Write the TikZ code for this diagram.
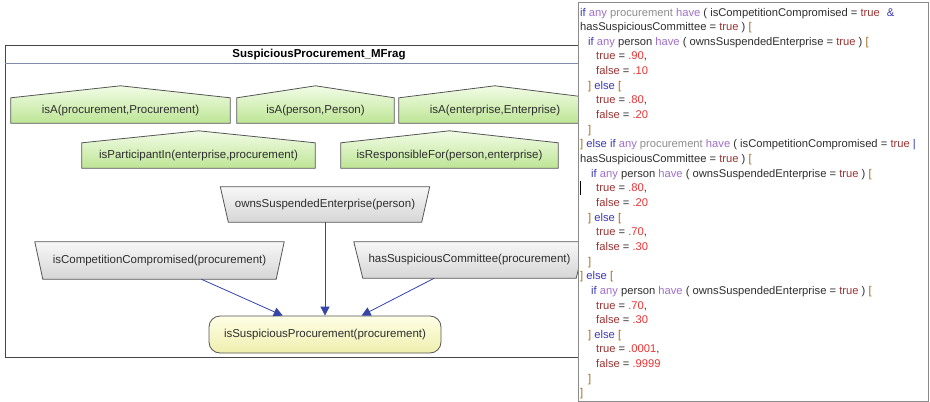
\documentclass[tikz,border=0pt]{standalone}
\usepackage{fontspec}
\setmainfont{Liberation Sans}
\usetikzlibrary{arrows.meta}
\pgfdeclarelayer{bgA}\pgfdeclarelayer{bgB}\pgfdeclarelayer{topL}
\pgfsetlayers{bgA,bgB,main,topL}
\definecolor{framec}{HTML}{474747}
\definecolor{titlelinec}{HTML}{7D8DAA}
\definecolor{nodeborder}{HTML}{555555}
\definecolor{greentop}{HTML}{F2FCE6}
\definecolor{greenbot}{HTML}{BDE595}
\definecolor{graytop}{HTML}{F7F7F7}
\definecolor{graybot}{HTML}{D6D6D6}
\definecolor{yeltop}{HTML}{FEFEE6}
\definecolor{yelbot}{HTML}{EFEFAE}
\definecolor{arrowc}{HTML}{3545A8}
\definecolor{panelc}{HTML}{8A8A8A}
\definecolor{txtc}{HTML}{2E2E2E}
\definecolor{kwc}{HTML}{3A3AB4}
\definecolor{ayc}{HTML}{A070C8}
\definecolor{enc}{HTML}{8E8E8E}
\definecolor{trc}{HTML}{9A3535}
\definecolor{brc}{HTML}{A06A20}
\definecolor{nmc}{HTML}{EE3333}
\newcommand\ckw[1]{\textcolor{kwc}{#1}}
\newcommand\cay[1]{\textcolor{ayc}{#1}}
\newcommand\cen[1]{\textcolor{enc}{#1}}
\newcommand\ctr[1]{\textcolor{trc}{#1}}
\newcommand\cbr[1]{\textcolor{brc}{#1}}
\newcommand\cnm[1]{\textcolor{nmc}{#1}}
\tikzset{
  lbl/.style={inner sep=0pt, font=\fontsize{11.5}{14}\selectfont, text=txtc},
  ctxbox/.style={lbl, minimum height=25pt},
  resbox/.style={lbl},
  greenshape/.style={draw=nodeborder, line width=0.8pt, top color=greentop, bottom color=greenbot},
  grayshape/.style={draw=nodeborder, line width=0.8pt, top color=graytop, bottom color=graybot},
  edge/.style={draw=arrowc, line width=0.8pt, -{Triangle[length=9pt,width=9pt]}},
  codeline/.style={anchor=base west, inner sep=0pt, font=\fontsize{11.2}{14}\selectfont, text=txtc},
}
\begin{document}
\begin{tikzpicture}[x=1pt,y=-1pt]
\useasboundingbox (0,0) rectangle (930,402);
% MFrag frame
\begin{pgfonlayer}{bgA}
  \draw[framec, line width=0.9pt, fill=white] (5,45) rectangle (660,357);
  \draw[titlelinec, line width=1.6pt] (5,63.5) -- (660,63.5);
\end{pgfonlayer}
\node[lbl, font=\bfseries\fontsize{11.5}{14}\selectfont, text=black] (title) at (319,54.5) {SuspiciousProcurement\_MFrag};
% context nodes (green)
\node[ctxbox, minimum width=219pt] (g1) at (120.5,110.5) {\raisebox{2.5pt}{isA(procurement,Procurement)}};
\node[ctxbox, minimum width=157pt] (g2) at (315.5,110.5) {\raisebox{2.5pt}{isA(person,Person)}};
\node[ctxbox, minimum width=192pt] (g3) at (495,110.5) {\raisebox{2.5pt}{isA(enterprise,Enterprise)}};
\node[ctxbox, minimum width=233pt] (g4) at (198.5,155.5) {\raisebox{2.5pt}{isParticipantIn(enterprise,procurement)}};
\node[ctxbox, minimum width=217pt] (g5) at (449.5,155.5) {\raisebox{2.5pt}{isResponsibleFor(person,enterprise)}};
% resident nodes (gray)
\node[resbox, minimum width=209pt, minimum height=35pt] (ose) at (325,204.5) {ownsSuspendedEnterprise(person)};
\node[resbox, minimum width=249pt, minimum height=37pt] (cc) at (159.5,260.5) {isCompetitionCompromised(procurement)};
\node[resbox, minimum width=231pt, minimum height=36pt] (hs) at (469.5,260) {hasSuspiciousCommittee(procurement)};
% main node (yellow)
\node[lbl, draw=nodeborder, line width=0.8pt, rounded corners=11pt, top color=yeltop, bottom color=yelbot,
      minimum width=232pt, minimum height=37pt] (sp) at (325,334.5) {isSuspiciousProcurement(procurement)};
\begin{pgfonlayer}{bgB}
  \foreach \n in {g1,g2,g3,g4,g5}{
    \path[greenshape] (\n.south west) -- (\n.north west) -- ([yshift=12pt]\n.north) -- (\n.north east) -- (\n.south east) -- cycle;
  }
  \path[grayshape] (ose.north west) -- (ose.north east) -- ([xshift=-8pt]ose.south east) -- ([xshift=8pt]ose.south west) -- cycle;
  \path[grayshape] (cc.north west) -- (cc.north east) -- ([xshift=-8pt]cc.south east) -- ([xshift=8pt]cc.south west) -- cycle;
  \path[grayshape] (hs.north west) -- (hs.north east) -- ([xshift=-9pt]hs.south east) -- ([xshift=9pt]hs.south west) -- cycle;
\end{pgfonlayer}
% connectors
\draw[edge] (cc) -- (sp);
\draw[edge] (ose) -- (sp);
\draw[edge] (hs) -- (sp);
% code panel
\begin{pgfonlayer}{topL}
  \draw[panelc, line width=0.9pt, fill=white] (578.5,2) rectangle (928.5,401.5);
  \def\ls{14.65}
  \node[codeline] (c1) at (580,16) {\ckw{if} \cay{any} \cen{procurement} \cay{have} ( isCompetitionCompromised = \ctr{true}\hspace{7pt}\ckw{\&}};
  \node[codeline] (c2) at (580,16+1*\ls) {hasSuspiciousCommittee = \ctr{true} ) \cbr{[}};
  \node[codeline] (c3) at (588,16+2*\ls) {\ckw{if} \cay{any} person \cay{have} ( ownsSuspendedEnterprise = \ctr{true} ) \cbr{[}};
  \node[codeline] (c4) at (596,16+3*\ls) {\ctr{true} = \cnm{.90},};
  \node[codeline] (c5) at (596,16+4*\ls) {\ctr{false} = \cnm{.10}};
  \node[codeline] (c6) at (588,16+5*\ls) {\cbr{]} \ckw{else} \cbr{[}};
  \node[codeline] (c7) at (596,16+6*\ls) {\ctr{true} = \cnm{.80},};
  \node[codeline] (c8) at (596,16+7*\ls) {\ctr{false} = \cnm{.20}};
  \node[codeline] (c9) at (588,16+8*\ls) {\cbr{]}};
  \node[codeline] (c10) at (580,16+9*\ls) {\cbr{]} \ckw{else if} \cay{any} \cen{procurement} \cay{have} ( isCompetitionCompromised = \ctr{true} \ckw{|}};
  \node[codeline] (c11) at (580,16+10*\ls) {hasSuspiciousCommittee = \ctr{true} ) \cbr{[}};
  \node[codeline] (c12) at (591,16+11*\ls) {\ckw{if} \cay{any} person \cay{have} ( ownsSuspendedEnterprise = \ctr{true} ) \cbr{[}};
  \node[codeline] (c13) at (596,16+12*\ls) {\ctr{true} = \cnm{.80},};
  \node[codeline] (c14) at (596,16+13*\ls) {\ctr{false} = \cnm{.20}};
  \node[codeline] (c15) at (588,16+14*\ls) {\cbr{]} \ckw{else} \cbr{[}};
  \node[codeline] (c16) at (596,16+15*\ls) {\ctr{true} = \cnm{.70},};
  \node[codeline] (c17) at (596,16+16*\ls) {\ctr{false} = \cnm{.30}};
  \node[codeline] (c18) at (588,16+17*\ls) {\cbr{]}};
  \node[codeline] (c19) at (580,16+18*\ls) {\cbr{]} \ckw{else} \cbr{[}};
  \node[codeline] (c20) at (591,16+19*\ls) {\ckw{if} \cay{any} person \cay{have} ( ownsSuspendedEnterprise = \ctr{true} ) \cbr{[}};
  \node[codeline] (c21) at (596,16+20*\ls) {\ctr{true} = \cnm{.70},};
  \node[codeline] (c22) at (596,16+21*\ls) {\ctr{false} = \cnm{.30}};
  \node[codeline] (c23) at (588,16+22*\ls) {\cbr{]} \ckw{else} \cbr{[}};
  \node[codeline] (c24) at (596,16+23*\ls) {\ctr{true} = \cnm{.0001},};
  \node[codeline] (c25) at (596,16+24*\ls) {\ctr{false} = \cnm{.9999}};
  \node[codeline] (c26) at (588,16+25*\ls) {\cbr{]}};
  \node[codeline] (c27) at (580,16+26*\ls) {\cbr{]}};
  % text caret
  \coordinate (caretTop) at (580.5,181);
  \coordinate (caretBot) at (580.5,195);
  \draw[black, line width=0.9pt] (caretTop) -- (caretBot);
\end{pgfonlayer}
\end{tikzpicture}
\end{document}
